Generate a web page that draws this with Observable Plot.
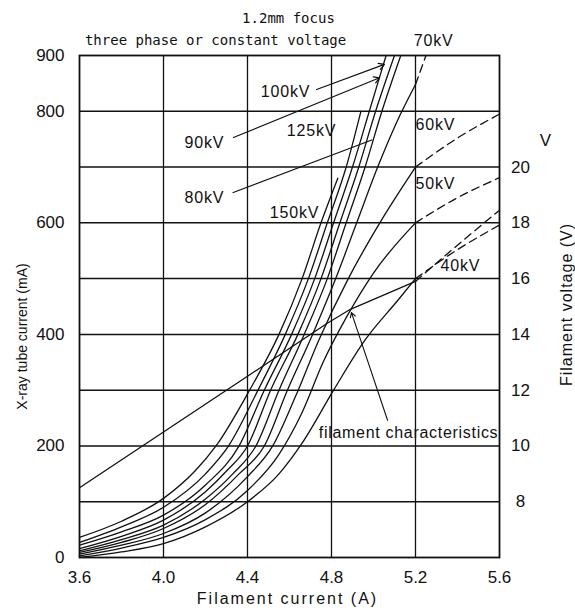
<!DOCTYPE html>
<html><head><meta charset="utf-8">
<script src="https://cdn.jsdelivr.net/npm/d3@7"></script>
<script src="https://cdn.jsdelivr.net/npm/@observablehq/plot@0.6"></script>
<style>
html,body{margin:0;padding:0;background:#fff;}
#chart svg{display:block;}
</style></head><body><div id="chart"></div>
<script>
// ---- data: filament current (A) -> X-ray tube current (mA)
const kv150 = [[3.6,36],[3.8,65],[4.0,106],[4.15,155],[4.25,200],[4.41,300],[4.55,400],[4.66,500],[4.75,600],[4.83,680]];
const kv125 = [[3.6,27],[3.8,55],[4.0,90],[4.2,150],[4.31,200],[4.45,300],[4.58,400],[4.69,500],[4.78,600],[4.87,700],[4.94,800]];
const kv100 = [[3.6,22],[3.8,46],[4.0,76],[4.2,130],[4.36,200],[4.48,300],[4.61,400],[4.72,500],[4.81,600],[4.90,700],[4.98,800],[5.06,900]];
const kv90  = [[3.6,16],[3.8,38],[4.0,67],[4.2,118],[4.3,155],[4.40,200],[4.51,300],[4.64,400],[4.75,500],[4.84,600],[4.93,700],[5.01,800],[5.10,900]];
const kv80  = [[3.6,12],[3.8,32],[4.0,58],[4.2,105],[4.33,150],[4.44,200],[4.55,300],[4.67,400],[4.78,500],[4.87,600],[4.96,700],[5.04,800],[5.13,900]];
const kv70  = [[3.6,9],[3.8,27],[4.0,52],[4.2,95],[4.36,150],[4.48,200],[4.59,300],[4.71,400],[4.82,500],[4.92,600],[5.02,700],[5.11,780],[5.2,848]];
const kv60  = [[3.6,6],[3.8,22],[4.0,43],[4.2,80],[4.4,145],[4.52,200],[4.63,290],[4.74,390],[4.88,500],[5.03,600],[5.2,700]];
const kv50  = [[3.6,3],[3.8,17],[4.0,36],[4.2,68],[4.4,120],[4.55,185],[4.66,260],[4.76,350],[4.87,430],[5.0,510],[5.2,600]];
const kv40  = [[3.6,0],[3.8,10],[4.0,25],[4.2,55],[4.4,100],[4.55,150],[4.66,205],[4.81,300],[4.96,390],[5.12,463],[5.2,500]];
const kvNames = ["150kV","125kV","100kV","90kV","80kV","70kV","60kV","50kV","40kV"];

// dashed extensions beyond 5.2 A
const kv70Ext = [[5.2,848],[5.25,900]];
const kv60Ext = [[5.2,700],[5.4,752],[5.6,795]];
const kv50Ext = [[5.2,600],[5.4,645],[5.6,681]];
const kv40Ext = [[5.2,500],[5.4,552],[5.6,596]];
const extNames = ["70kV","60kV","50kV","40kV"];

// filament characteristic: filament current (A) -> filament voltage (V)
const filamentSolid = [[3.6,8.5],[4.0,10.5],[4.4,12.5],[4.78,14.4],[4.89,14.9],[5.2,15.9]];
const filamentDashed = [[5.2,15.9],[5.4,17.2],[5.6,18.45]];

// ticks
const xTicks = [3.6, 4.0, 4.4, 4.8, 5.2, 5.6];
const xGrid = [4.0, 4.4, 4.8, 5.2];
const leftTicks = [0, 200, 400, 600, 800, 900];
const yGrid = [100, 200, 300, 400, 500, 600, 700, 800];
const voltTicks = [8, 10, 12, 14, 16, 18, 20];

// secondary axis: 8 V <-> 100 mA, 2 V per 100 mA
const vToMA = v => 100 + (v - 8) * 50;
const maToV = m => 8 + (m - 100) / 50;

// annotations (data coordinates: A, mA)
const kvLabelText = ["100kV","90kV","80kV","125kV","150kV","70kV","60kV","50kV","40kV"];
const kvLabelA    = [4.581, 4.195, 4.195, 4.705, 4.624, 5.286, 5.295, 5.295, 5.414];
const kvLabelMA   = [834, 744, 645, 765, 618, 927, 776, 670, 523];
const arrowLeaders = [
  {x1: 4.729, y1: 839, x2: 5.052, y2: 884},
  {x1: 4.333, y1: 753, x2: 5.029, y2: 860}
];
const plainLeaders = [
  {x1: 4.329, y1: 654, x2: 4.995, y2: 749}
];
const filamentPointer = [{x1: 5.067, y1: 246, x2: 4.895, y2: 439}];
const titleLines = ["1.2mm focus", "three phase or constant voltage"];
const titleA = [4.595, 4.248];
const titleMA = [966, 927];

// ---- build tables
const toRows = (arrs, names) => arrs.flatMap((pts, i) => pts.map(([a, m]) => ({kv: names[i], a, m})));
const solidRows = toRows([kv150, kv125, kv100, kv90, kv80, kv70, kv60, kv50, kv40], kvNames);
const dashRows = toRows([kv70Ext, kv60Ext, kv50Ext, kv40Ext], extNames);
const filSolidRows = filamentSolid.map(([a, v]) => ({a, m: vToMA(v)}));
const filDashRows = filamentDashed.map(([a, v]) => ({a, m: vToMA(v)}));
const kvLabels = kvLabelText.map((t, i) => ({t, a: kvLabelA[i], m: kvLabelMA[i]}));
const titles = titleLines.map((t, i) => ({t, a: titleA[i], m: titleMA[i]}));

const ink = "#111";
const chart = Plot.plot({
  width: 575, height: 611,
  marginLeft: 79, marginRight: 76, marginTop: 55, marginBottom: 54,
  x: {domain: [3.6, 5.6]},
  y: {domain: [0, 900]},
  style: {fontFamily: "'Liberation Sans', Arial, sans-serif", fontSize: "17px", color: ink, background: "#fff"},
  marks: [
    Plot.ruleY(yGrid, {stroke: ink, strokeWidth: 1.5}),
    Plot.ruleX(xGrid, {stroke: ink, strokeWidth: 1.3}),
    Plot.frame({stroke: ink, strokeWidth: 1.8}),
    Plot.axisY({ticks: leftTicks, tickSize: 0, tickPadding: 15, label: null}),
    Plot.axisY({anchor: "right", ticks: voltTicks.map(vToMA), tickFormat: d => String(maToV(d)),
      tickSize: 0, tickPadding: 21, textAnchor: "middle", label: null}),
    Plot.axisX({ticks: xTicks, tickSize: 0, tickPadding: 13, tickFormat: d3.format(".1f"), label: null}),
    Plot.text(["X-ray tube current (mA)"], {text: d => d, frameAnchor: "left", textAnchor: "middle", dx: -57, dy: 30, rotate: -90, fontSize: 14}),
    Plot.text(["Filament voltage (V)"], {text: d => d, frameAnchor: "right", textAnchor: "middle", dx: 67, dy: -2, rotate: -90, fontSize: 16}),
    Plot.text(["Filament current (A)"], {text: d => d, frameAnchor: "bottom", textAnchor: "middle", dx: -2, dy: 46, fontSize: 16}),
    Plot.text(["V"], {text: d => d, x: () => 5.819, y: () => 748, fontSize: 17}),
    // curves
    Plot.line(solidRows, {x: "a", y: "m", z: "kv", curve: "monotone-x", stroke: ink, strokeWidth: 1.3}),
    Plot.line(dashRows, {x: "a", y: "m", z: "kv", curve: "monotone-x", stroke: ink, strokeWidth: 1.3, strokeDasharray: "8,5"}),
    Plot.line(filSolidRows, {x: "a", y: "m", stroke: ink, strokeWidth: 1.3}),
    Plot.line(filDashRows, {x: "a", y: "m", curve: "monotone-x", stroke: ink, strokeWidth: 1.3, strokeDasharray: "8,5"}),
    // leaders
    Plot.arrow(arrowLeaders, {x1: "x1", y1: "y1", x2: "x2", y2: "y2", stroke: ink, strokeWidth: 1.2, headLength: 8}),
    Plot.link(plainLeaders, {x1: "x1", y1: "y1", x2: "x2", y2: "y2", stroke: ink, strokeWidth: 1.2}),
    Plot.arrow(filamentPointer, {x1: "x1", y1: "y1", x2: "x2", y2: "y2", stroke: ink, strokeWidth: 1.1, headLength: 7}),
    // labels
    Plot.text(kvLabels, {x: "a", y: "m", text: "t", fontSize: 16, fill: ink}),
    Plot.text(["filament characteristics"], {text: d => d, x: () => 5.167, y: () => 224, fontSize: 16, fill: ink}),
    Plot.text(titles, {x: "a", y: "m", text: "t", fontFamily: "'DejaVu Sans Mono', monospace", fontSize: 14, fill: ink})
  ]
});
// typewriter-like letter spacing for the annotation texts
const spacing = {"Filament current (A)": "2px", "Filament voltage (V)": "1px", "filament characteristics": "0.7px"};
kvLabelText.forEach(t => spacing[t] = "0.8px");
d3.select(chart).selectAll("text").each(function() {
  const s = spacing[this.textContent];
  if (s) this.style.letterSpacing = s;
});
document.getElementById("chart").appendChild(chart);
</script>
</body></html>
